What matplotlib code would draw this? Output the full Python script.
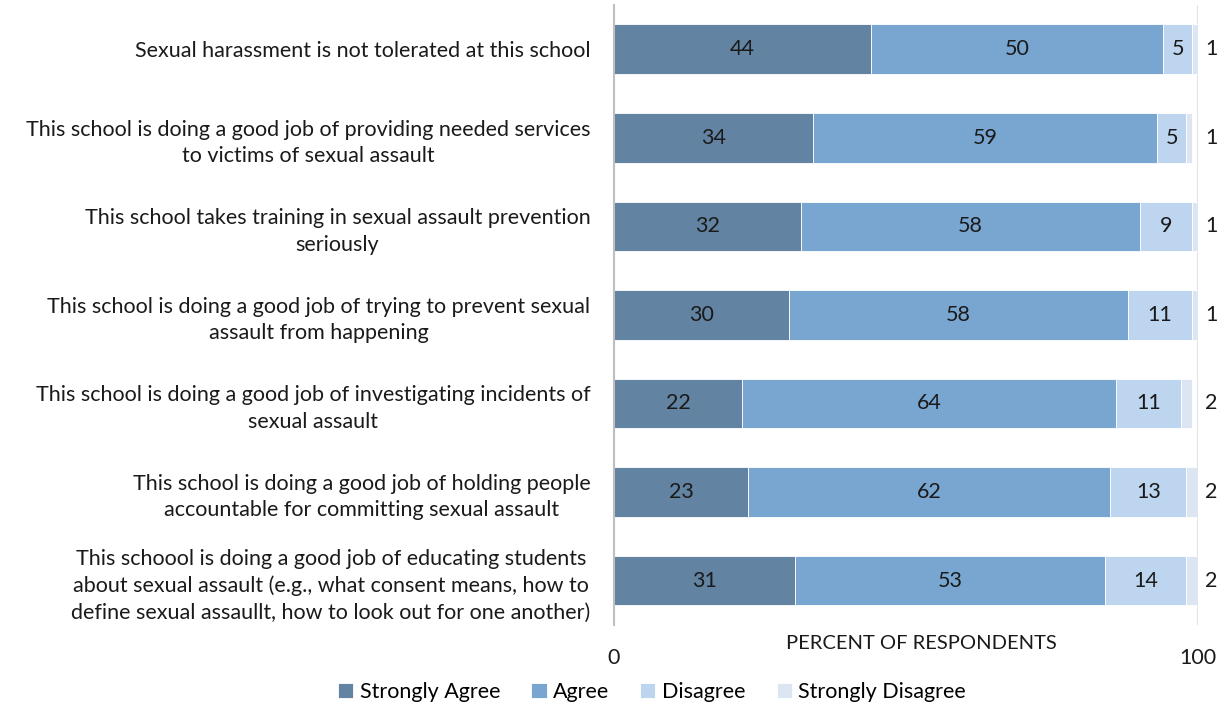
import matplotlib.pyplot as plt
import numpy as np

plt.rcParams['font.family'] = ['Lato', 'DejaVu Sans']

statements = [
    'Sexual harassment is not tolerated at this school',
    'This school is doing a good job of providing needed services\nto victims of sexual assault',
    'This school takes training in sexual assault prevention\nseriously',
    'This school is doing a good job of trying to prevent sexual\nassault from happening',
    'This school is doing a good job of investigating incidents of\nsexual assault',
    'This school is doing a good job of holding people\naccountable for committing sexual assault',
    'This schoool is doing a good job of educating students\nabout sexual assault (e.g., what consent means, how to\ndefine sexual assaullt, how to look out for one another)',
]
strongly_agree = [44, 34, 32, 30, 22, 23, 31]
agree = [50, 59, 58, 58, 64, 62, 53]
disagree = [5, 5, 9, 11, 11, 13, 14]
strongly_disagree = [1, 1, 1, 1, 2, 2, 2]

series = [
    ('Strongly Agree', strongly_agree, '#6383A2'),
    ('Agree', agree, '#79A6D0'),
    ('Disagree', disagree, '#BDD5EE'),
    ('Strongly Disagree', strongly_disagree, '#DCE6F2'),
]

FS = 15.5
fig = plt.figure(figsize=(12.28, 7.06), dpi=100)
ax = fig.add_axes([0.5, 0.115, 0.4756, 0.878])

y = np.arange(len(statements))
left = np.zeros(len(statements))
for name, vals, color in series:
    vals = np.array(vals, dtype=float)
    bars = ax.barh(y, vals, left=left, height=0.56, color=color,
                   edgecolor='white', linewidth=0.6, label=name)
    if name == 'Strongly Disagree':
        for b, v in zip(bars, vals):
            ax.text(101.2, b.get_y() + b.get_height() / 2, f'{v:.0f}',
                    ha='left', va='center', fontsize=FS, color='#1a1a1a')
    else:
        ax.bar_label(bars, labels=[f'{v:.0f}' for v in vals],
                     label_type='center', fontsize=FS, color='#1a1a1a')
    left += vals

ax.set_xlim(0, 100)
ax.set_ylim(len(statements) - 0.5, -0.5)
ax.set_yticks(y)
ax.set_yticklabels(statements, fontsize=FS, ha='right', multialignment='center',
                   linespacing=1.4, color='#1a1a1a')
ax.tick_params(axis='y', length=0, pad=17)
ax.set_xticks([0, 100])
ax.set_xticklabels(['0', '100'], fontsize=FS, color='#1a1a1a')
ax.tick_params(axis='x', length=0, pad=17)
ax.axvline(100, color='#e3e3e3', linewidth=1.5, zorder=0)

for s in ['top', 'right', 'bottom']:
    ax.spines[s].set_visible(False)
ax.spines['left'].set_color('#bfbfbf')
ax.spines['left'].set_linewidth(1.5)

ax.text(0.526, -0.016, 'PERCENT OF RESPONDENTS', transform=ax.transAxes,
        ha='center', va='top', fontsize=14.5, color='#1a1a1a')

fig.legend(loc='center', bbox_to_anchor=(0.531, 0.02), ncol=4, frameon=False,
           fontsize=FS, handlelength=0.7, handleheight=0.7, handletextpad=0.3,
           columnspacing=1.45)

fig.savefig('out.png', dpi=100)
